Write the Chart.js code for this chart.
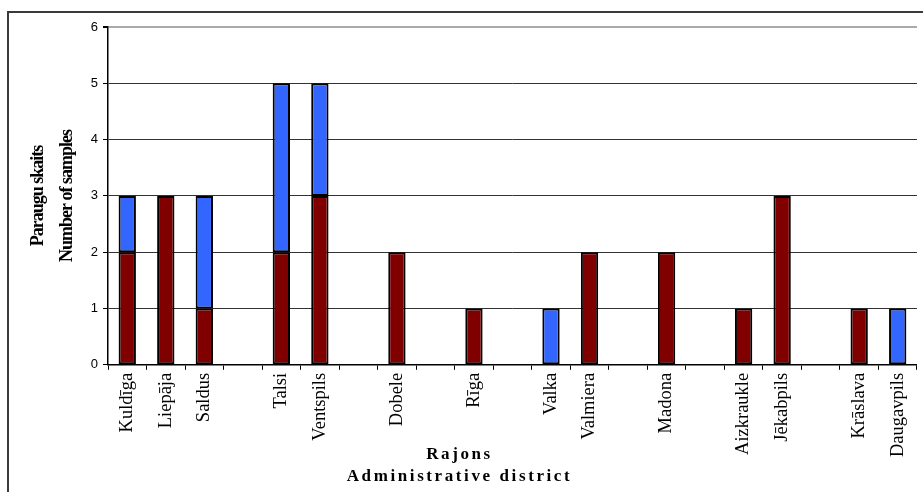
<!DOCTYPE html>
<html>
<head>
<meta charset="utf-8">
<script src="https://cdn.jsdelivr.net/npm/chart.js@4.4.1/dist/chart.umd.min.js"></script>
<style>
    body { margin: 0; background: #fff; overflow: hidden; }
    #frame { position: absolute; left: 7px; top: 11px; width: 1000px; height: 600px; border: 2px solid #3a3a3a; }
    #chart { position: absolute; left: 0; top: 0; }
</style>
</head>
<body>
<div id="frame"></div>
<canvas id="chart" width="923" height="492"></canvas>
<script>
const DISTRICTS = ["Kuldīga", "Liepāja", "Saldus", "", "Talsi", "Ventspils", "", "Dobele", "", "Rīga", "",
    "Valka", "Valmiera", "", "Madona", "", "Aizkraukle", "Jēkabpils", "", "Krāslava", "Daugavpils"];
const RED_VALUES = [2, 3, 1, 0, 2, 3, 0, 2, 0, 1, 0, 0, 2, 0, 2, 0, 1, 3, 0, 1, 0];
const BLUE_VALUES = [1, 0, 2, 0, 3, 2, 0, 0, 0, 0, 0, 1, 0, 0, 0, 0, 0, 0, 0, 0, 1];
const Y_TICKS = [0, 1, 2, 3, 4, 5, 6];

const RED = "#800000";
const BLUE = "#3366ff";
const SERIF = "'Liberation Serif', 'Times New Roman', serif";
const SANS = "'Liberation Sans', Arial, sans-serif";

// canvas letterSpacing for titles (chart.js has no option for it)
function withSpacing(obj, method, spacing) {
    const orig = obj[method];
    obj[method] = function (...args) {
        const ctx = this.ctx;
        ctx.save();
        ctx.letterSpacing = spacing;
        const r = orig.apply(this, args);
        ctx.restore();
        return r;
    };
}

const barStyle = {
    borderColor: "#000",
    borderWidth: 2,
    borderSkipped: false,
    barPercentage: 0.45,
    categoryPercentage: 1
};

const configuration = {
    type: 'bar',
    data: {
        labels: DISTRICTS,
        datasets: [
            { data: RED_VALUES, backgroundColor: RED, ...barStyle },
            { data: BLUE_VALUES, backgroundColor: BLUE, ...barStyle }
        ]
    },
    options: {
        responsive: false,
        animation: false,
        layout: { padding: { left: 0, right: 4, top: 27, bottom: 0 } },
        scales: {
            x: {
                stacked: true,
                afterFit: (scale) => { scale.height = 95; },
                grid: {
                    offset: true,
                    drawOnChartArea: true,
                    color: (c) => c.index === DISTRICTS.length ? "#999" : "rgba(0,0,0,0)",
                    lineWidth: (c) => c.index === DISTRICTS.length ? 2 : 1,
                    tickColor: "#000",
                    tickLength: 5
                },
                border: { color: "#000", width: 1.5 },
                ticks: {
                    autoSkip: false,
                    minRotation: 90,
                    maxRotation: 90,
                    padding: 3,
                    color: "#000",
                    font: { family: SERIF, size: 18.5 }
                }
            },
            y: {
                stacked: true,
                min: 0,
                max: 6,
                afterFit: (scale) => { scale.width = 108; },
                afterBuildTicks: (scale) => { scale.ticks = Y_TICKS.map(v => ({ value: v })); },
                grid: {
                    color: (c) => c.tick && c.tick.value === 6 ? "#aaa" : "#333",
                    lineWidth: (c) => c.tick && c.tick.value === 6 ? 2 : 1,
                    tickColor: "#000",
                    tickLength: 5
                },
                border: { color: "#000", width: 1.5 },
                ticks: {
                    padding: 5,
                    color: "#000",
                    font: { family: SANS, size: 13 }
                },
                title: {
                    display: true,
                    text: ["Paraugu skaits", "Number of samples"],
                    color: "#000",
                    font: { family: SERIF, size: 18, weight: "bold", lineHeight: 1.6 },
                    padding: { top: 24, bottom: 0 }
                }
            }
        },
        plugins: {
            legend: { display: false },
            tooltip: { enabled: false },
            title: {
                display: true,
                position: "bottom",
                text: ["Rajons", "Administrative district"],
                color: "#000",
                font: { family: SERIF, size: 17, weight: "bold", lineHeight: 1.3 },
                padding: { top: -16, bottom: 4 }
            }
        }
    }
};

const ctx = document.querySelector("#chart").getContext('2d');
const chart = new Chart(ctx, configuration);
withSpacing(chart.scales.y, "drawTitle", "-1px");
withSpacing(chart.titleBlock, "draw", "2.6px");
chart.draw();
</script>
</body>
</html>
